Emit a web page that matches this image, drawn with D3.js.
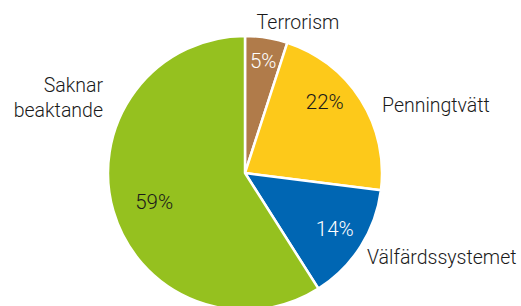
<!DOCTYPE html>
<html>
<head>
<meta charset="utf-8">
<script src="https://cdn.jsdelivr.net/npm/d3@7.9.0/dist/d3.min.js"></script>
<style>
  html, body { margin: 0; padding: 0; background: #fff; }
  svg text { font-family: Roboto, "Liberation Sans", sans-serif; font-weight: 300; }
</style>
</head>
<body>
<svg id="chart" width="521" height="306"></svg>
<script>
/* --- Data (share in percent) --- */
const categories = ['Terrorism', 'Penningtvätt', 'Välfärdssystemet', 'Saknar beaktande'];
const shares = [5, 22, 14, 59];
const sliceColors = ['#b07b4a', '#fdc91a', '#0066b3', '#95c11f'];
const valueColors = ['#fff', '#1a1a1a', '#fff', '#1a1a1a'];

/* --- Layout --- */
const cx = 245, cy = 173, radius = 137;
// category label placement relative to centre (annotation only)
const labelLayout = [
  { dx: 53,   dy: -151, anchor: 'middle' },
  { dx: 137,  dy: -68,  anchor: 'start' },
  { dx: 122,  dy: 84,   anchor: 'start' },
  { dx: -142, dy: -88,  anchor: 'end' }
];
// small nudges of the percent labels away from the centroid
const valueNudge = [[2, -10], [-8, -16], [2, 0], [9, 0]];

const data = categories.map((c, i) => ({ label: c, value: shares[i], i }));

const svg = d3.select('#chart');
const g = svg.append('g').attr('transform', `translate(${cx},${cy})`);

const pie = d3.pie().sort(null).value(d => d.value);
const arc = d3.arc().innerRadius(0).outerRadius(radius);
const labelArc = d3.arc().innerRadius(104).outerRadius(104);
const arcs = pie(data);

/* --- Slices --- */
g.selectAll('path')
  .data(arcs)
  .enter()
  .append('path')
  .attr('d', arc)
  .attr('fill', d => sliceColors[d.data.i])
  .attr('stroke', '#fff')
  .attr('stroke-width', 2.5)
  .attr('stroke-linejoin', 'round');

/* --- Value labels --- */
g.selectAll('text.value')
  .data(arcs)
  .enter()
  .append('text')
  .attr('class', 'value')
  .attr('transform', d => {
    const [x, y] = labelArc.centroid(d);
    const [nx, ny] = valueNudge[d.data.i];
    return `translate(${x + nx},${y + ny})`;
  })
  .attr('text-anchor', 'middle')
  .attr('dy', '0.36em')
  .attr('font-size', 20.5)
  .attr('fill', d => valueColors[d.data.i])
  .text(d => d.data.value + '%');

/* --- Category labels --- */
const cat = g.selectAll('text.cat')
  .data(data)
  .enter()
  .append('text')
  .attr('class', 'cat')
  .attr('font-size', 19.5)
  .attr('fill', '#1a1a1a')
  .attr('text-anchor', d => labelLayout[d.i].anchor)
  .attr('x', d => labelLayout[d.i].dx)
  .attr('y', d => labelLayout[d.i].dy);

cat.each(function (d) {
  const t = d3.select(this);
  d.label.split(' ').forEach((w, k) => {
    t.append('tspan')
      .attr('x', labelLayout[d.i].dx)
      .attr('dy', k === 0 ? '0.36em' : 25)
      .text(w);
  });
});
</script>
</body>
</html>
